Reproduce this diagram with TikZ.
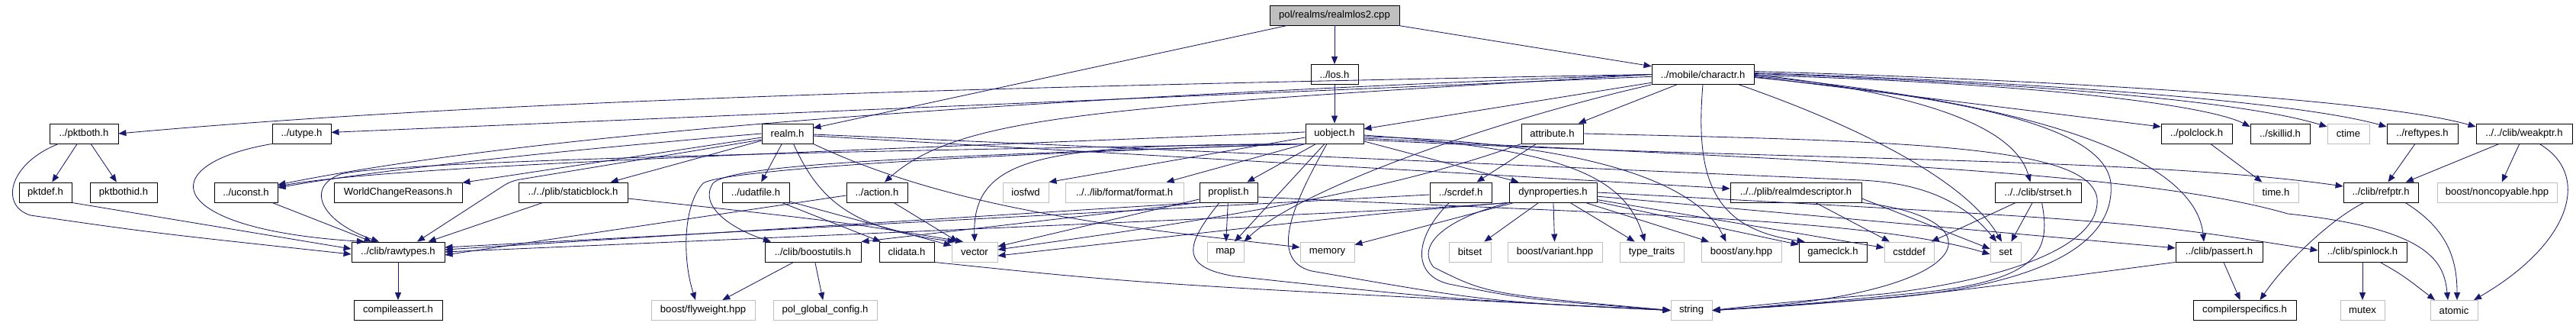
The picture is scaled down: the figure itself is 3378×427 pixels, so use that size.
\documentclass[tikz,border=0pt]{standalone}
\usepackage{fontspec}
\setmainfont{Liberation Sans}
\usetikzlibrary{arrows.meta}
\definecolor{edgec}{RGB}{25,25,112}
\definecolor{grayb}{RGB}{191,191,191}
\begin{document}
\begin{tikzpicture}[x=1pt,y=-1pt,
  nb/.style={draw=black, line width=0.9pt, minimum height=26, inner sep=0pt, font=\fontsize{13.1}{15}\selectfont, text=black, fill=white},
  ng/.style={nb, draw=grayb},
  e/.style={draw=edgec, line width=0.85pt, -{Triangle[length=10pt,width=8pt]}}]
\fill[white] (0,0) rectangle (3378,427);
\useasboundingbox (0,0) rectangle (3378,427);
% row 0
\node[nb, fill=grayb, minimum width=170] (rlos) at (1750,20) {pol/realms/realmlos2.cpp};
% row 1
\node[nb, minimum width=62] (los) at (1750,97.5) {../los.h};
\node[nb, minimum width=134] (charactr) at (2233,97.5) {../mobile/charactr.h};
% row 2
\node[nb, minimum width=90] (pktboth) at (110,175) {../pktboth.h};
\node[nb, minimum width=77] (utype) at (395.5,175) {../utype.h};
\node[nb, minimum width=67] (realm) at (1032.5,175) {realm.h};
\node[nb, minimum width=76] (uobject) at (1750,175) {uobject.h};
\node[nb, minimum width=81] (attribute) at (2035.5,175) {attribute.h};
\node[nb, minimum width=93] (polclock) at (2880.5,175) {../polclock.h};
\node[nb, minimum width=78] (skillid) at (2990,175) {../skillid.h};
\node[ng, minimum width=55] (ctime) at (3079.5,175) {ctime};
\node[nb, minimum width=93] (reftypes) at (3176.5,175) {../reftypes.h};
\node[nb, minimum width=126] (weakptr) at (3310,175) {../../clib/weakptr.h};
% row 3
\node[nb, minimum width=69] (pktdef) at (59.5,252) {pktdef.h};
\node[nb, minimum width=88] (pktbothid) at (162,252) {pktbothid.h};
\node[nb, minimum width=83] (uconst) at (322.5,252) {../uconst.h};
\node[nb, minimum width=168] (wcr) at (522,252) {WorldChangeReasons.h};
\node[nb, minimum width=143] (staticblock) at (751.5,252) {../../plib/staticblock.h};
\node[nb, minimum width=88] (udatfile) at (991,252) {../udatfile.h};
\node[nb, minimum width=80] (action) at (1150,252) {../action.h};
\node[ng, minimum width=60] (iosfwd) at (1345,252) {iosfwd};
\node[ng, minimum width=155] (format) at (1474.5,252) {../../lib/format/format.h};
\node[nb, minimum width=76] (proplist) at (1611,252) {proplist.h};
\node[nb, minimum width=81] (scrdef) at (1915.5,252) {../scrdef.h};
\node[nb, minimum width=115] (dynprop) at (2036.5,252) {dynproperties.h};
\node[nb, minimum width=172] (realmdesc) at (2355,252) {../../plib/realmdescriptor.h};
\node[nb, minimum width=113] (strset) at (2672.5,252) {../../clib/strset.h};
\node[ng, minimum width=59] (timeh) at (2984.5,252) {time.h};
\node[nb, minimum width=98] (refptr) at (3122,252) {../clib/refptr.h};
\node[ng, minimum width=157] (noncopy) at (3274.5,252) {boost/noncopyable.hpp};
% row 4
\node[nb, minimum width=122] (rawtypes) at (522,330) {../clib/rawtypes.h};
\node[nb, minimum width=126] (boostutils) at (1066,330) {../clib/boostutils.h};
\node[nb, minimum width=72] (clidata) at (1189,330) {clidata.h};
\node[ng, minimum width=60] (vector) at (1278,330) {vector};
\node[ng, minimum width=48] (mapn) at (1607,330) {map};
\node[ng, minimum width=71] (memory) at (1740.5,330) {memory};
\node[ng, minimum width=55] (bitset) at (1927.5,330) {bitset};
\node[ng, minimum width=124] (variant) at (2039,330) {boost/variant.hpp};
\node[ng, minimum width=84] (ttraits) at (2166,330) {type\_traits};
\node[ng, minimum width=105] (anyh) at (2283.5,330) {boost/any.hpp};
\node[nb, minimum width=89] (gameclck) at (2403.5,330) {gameclck.h};
\node[ng, minimum width=65] (cstddef) at (2503.5,330) {cstddef};
\node[ng, minimum width=40] (setn) at (2630,330) {set};
\node[nb, minimum width=114] (passert) at (2910,330) {../clib/passert.h};
\node[nb, minimum width=116] (spinlock) at (3098,330) {../clib/spinlock.h};
% row 5
\node[nb, minimum width=116] (cassert) at (522,406.5) {compileassert.h};
\node[ng, minimum width=136] (flyweight) at (922,406.5) {boost/flyweight.hpp};
\node[ng, minimum width=136] (polglobal) at (1082,406.5) {pol\_global\_config.h};
\node[ng, minimum width=54] (stringn) at (2218,406.5) {string};
\node[nb, minimum width=135] (cspec) at (2943.5,406.5) {compilerspecifics.h};
\node[ng, minimum width=58] (mutex) at (3098,406.5) {mutex};
\node[ng, minimum width=62] (atomic) at (3218,406.5) {atomic};
% root edges
\draw[e] (rlos) -- (los);
\draw[e] (rlos) -- (charactr);
\draw[e] (rlos) -- (realm);
\draw[e] (los) -- (uobject);
% charactr
\draw[e] (charactr.west) .. controls (1200,115) and (600,135) .. (pktboth.east);
\draw[e] (charactr) -- (utype);
\draw[e] (charactr.west) .. controls (1300,130) and (700,175) .. ([yshift=10]uconst.east);
\draw[e] (charactr) -- (uobject);
\draw[e] (charactr) -- (attribute);
\draw[e] (charactr.west) .. controls (1450,140) and (1260,150) .. ([xshift=10]action.north);
\draw[e] (charactr.south west) .. controls (1950,160) and (1700,250) .. (mapn.north east);
\draw[e] (charactr.south) .. controls (2222,240) and (2250,300) .. ([xshift=8]gameclck.north west);
\draw[e] ([xshift=-20]charactr.south east) .. controls (2450,170) and (2580,240) .. ([xshift=-5]setn.north);
\draw[e] ([yshift=-3]charactr.east) -- ([yshift=9]polclock.west);
\draw[e] ([yshift=-1]charactr.east) .. controls (2700,110) and (2900,140) .. ([yshift=9]skillid.west);
\draw[e] ([yshift=1]charactr.east) .. controls (2700,110) and (2950,135) .. ([yshift=9]ctime.west);
\draw[e] ([yshift=2]charactr.east) .. controls (2700,108) and (3020,135) .. ([yshift=9]reftypes.west);
\draw[e] ([yshift=4]charactr.east) .. controls (2700,105) and (3120,130) .. ([yshift=9]weakptr.west);
\draw[e] (charactr.east) .. controls (2500,120) and (2640,160) .. ([xshift=-10]strset.north);
\draw[e] ([yshift=-2]charactr.east) .. controls (2720,140) and (2880,220) .. ([xshift=-20]passert.north);
\draw[e] ([yshift=-4]charactr.east) .. controls (2600,130) and (2760,170) .. (2768,240) .. controls (2775,330) and (2650,375) .. (2480,390) .. controls (2330,402) .. (stringn.east);
% attribute
\draw[e] (attribute) -- (scrdef);
\draw[e] (attribute.east) .. controls (2500,185) and (2740,190) .. (2750,260) .. controls (2755,320) and (2640,365) .. (2470,385) .. controls (2320,398) .. (stringn.east);
\draw[e] (attribute.south west) .. controls (1800,260) and (1500,300) .. ([yshift=3]vector.east);
% uobject
\draw[e] ([yshift=2]uobject.west) .. controls (900,205) and (500,220) .. ([yshift=8]uconst.east);
\draw[e] (uobject.south west) .. controls (900,200) and (500,215) .. (447,228) .. controls (400,245) and (420,290) .. ([xshift=-25]rawtypes.north);
\draw[e] (uobject.south west) .. controls (1200,205) and (960,215) .. (935,240) .. controls (915,270) and (960,300) .. ([xshift=-55]boostutils.north);
\draw[e] (uobject.south west) .. controls (1200,205) and (945,225) .. (922,240) .. controls (895,270) and (895,340) .. ([xshift=-10]flyweight.north);
\draw[e] (uobject) -- (proplist);
\draw[e] ([xshift=-13]uobject.south) -- ([xshift=12]mapn.north);
\draw[e] ([xshift=-10]uobject.south) .. controls (1700,260) and (1660,340) .. (1720,355) .. controls (1950,395) .. (stringn.west);
\draw[e] (uobject.south west) -- ([xshift=55]format.north);
\draw[e] ([yshift=-5]uobject.west) -- (iosfwd.north east);
\draw[e] (uobject.south west) .. controls (1380,190) and (1275,200) .. (vector.north);
\draw[e] ([yshift=-10]uobject.east) -- ([xshift=-45]dynprop.north);
\draw[e] ([yshift=-2]uobject.east) .. controls (2050,195) and (2130,230) .. ([xshift=-9]ttraits.north);
\draw[e] ([yshift=-4]uobject.east) .. controls (2050,185) and (2220,230) .. ([xshift=-20]anyh.north);
\draw[e] ([yshift=-8]uobject.east) .. controls (2300,210) and (2800,205) .. ([yshift=8]refptr.west);
\draw[e] ([yshift=-6]uobject.east) .. controls (2350,210) and (2800,222) .. (3000,280) .. controls (3190,300) and (3205,345) .. ([xshift=-8]atomic.north);
% realm
\draw[e] (realm.west) .. controls (700,200) and (480,225) .. ([yshift=6]uconst.east);
\draw[e] (realm) -- (wcr);
\draw[e] (realm) -- (staticblock);
\draw[e] (realm) -- (udatfile);
\draw[e, rounded corners=10pt] ([yshift=-8]realm.west) -- (670,237) -- ([xshift=25]rawtypes.north);
\draw[e] ([xshift=8]realm.south) .. controls (1075,265) and (1120,300) .. ([xshift=5]vector.north west);
\draw[e] (realm.south east) .. controls (1260,280) and (1500,300) .. ([yshift=6]memory.west);
\draw[e] ([yshift=-3]realm.east) -- ([yshift=5]realmdesc.west);
\draw[e] ([yshift=-1]realm.east) -- (2440,236) .. controls (2530,240) and (2580,270) .. ([xshift=-12]setn.north);
% left part
\draw[e] (pktboth) -- (pktdef);
\draw[e] (pktboth) -- (pktbothid);
\draw[e] ([xshift=12]pktboth.south west) .. controls (10,215) and (0,270) .. (40,282) .. controls (200,305) .. ([yshift=-3]rawtypes.west);
\draw[e] (pktdef.south east) -- ([yshift=4]rawtypes.west);
\draw[e] (utype.south west) .. controls (200,215) and (210,300) .. ([xshift=-44]rawtypes.north);
\draw[e] (uconst) -- (rawtypes);
\draw[e] (staticblock) -- (rawtypes);
\draw[e] ([yshift=-8]staticblock.east) .. controls (1100,290) .. ([xshift=-15]vector.north);
\draw[e] (udatfile) -- (clidata);
\draw[e] (udatfile) -- (vector);
\draw[e] ([yshift=-4]action.west) -- ([yshift=-4]rawtypes.east);
\draw[e] (action) -- (vector);
\draw[e] (boostutils) -- (flyweight);
\draw[e] (boostutils) -- (polglobal);
\draw[e] (clidata.south east) .. controls (1500,372) .. (stringn.west);
\draw[e] (rawtypes) -- (cassert);
% proplist
\draw[e] (proplist) -- (mapn);
\draw[e] ([xshift=-12]proplist.south) .. controls (1555,320) and (1545,350) .. (1620,362) .. controls (1900,392) .. (stringn.west);
\draw[e] (proplist) -- (vector);
\draw[e] (proplist.south west) -- ([yshift=3]rawtypes.east);
\draw[e] (proplist.south west) -- (boostutils.north east);
\draw[e] ([yshift=-6]proplist.east) .. controls (2100,280) and (2450,285) .. ([yshift=-3]setn.west);
% scrdef
\draw[e] ([yshift=-3]scrdef.west) -- ([yshift=6]rawtypes.east);
\draw[e] ([xshift=-15]scrdef.south) .. controls (1855,310) and (1850,360) .. (1900,372) .. controls (2000,392) .. (stringn.west);
% dynproperties
\draw[e] (dynprop) -- (bitset);
\draw[e] (dynprop) -- (variant);
\draw[e] (dynprop) -- (ttraits);
\draw[e] (dynprop) -- (anyh);
\draw[e] (dynprop) -- (memory);
\draw[e] (dynprop.south west) .. controls (1900,285) and (1855,320) .. (1880,350) .. controls (1950,385) .. (stringn.west);
\draw[e] (dynprop) -- (gameclck);
\draw[e] (dynprop) -- (passert);
\draw[e] (dynprop) -- (cstddef);
\draw[e] (dynprop.east) .. controls (2800,290) .. ([yshift=2]spinlock.west);
\draw[e] (dynprop.south west) .. controls (1850,275) .. (rawtypes.east);
\draw[e] (dynprop.south west) .. controls (1800,280) .. ([yshift=-5]vector.east);
% realmdescriptor
\draw[e] (realmdesc) -- (cstddef);
\draw[e] ([yshift=-8]realmdesc.east) -- ([yshift=4]setn.west);
\draw[e] (realmdesc.south east) .. controls (2620,285) and (2610,385) .. (stringn.east);
% strset
\draw[e] (strset) -- (setn);
\draw[e] (strset) -- (cstddef);
\draw[e] ([xshift=5]strset.south) .. controls (2690,330) and (2675,370) .. (2500,385) .. controls (2350,400) .. (stringn.east);
% passert
\draw[e] (passert) -- (cspec);
\draw[e] (passert.south west) .. controls (2500,390) .. (stringn.east);
% clib right
\draw[e] (polclock) -- (timeh);
\draw[e] (reftypes) -- (refptr);
\draw[e] (weakptr) -- (refptr);
\draw[e] (weakptr) -- (noncopy);
\draw[e] ([xshift=20]weakptr.south) .. controls (3400,230) and (3370,320) .. ([xshift=26]atomic.north);
\draw[e] ([xshift=-22]refptr.south) .. controls (3060,285) and (3000,340) .. ([xshift=20]cspec.north);
\draw[e] ([xshift=32]refptr.south) .. controls (3210,300) and (3222,340) .. ([xshift=4]atomic.north);
\draw[e] (spinlock) -- (mutex);
\draw[e] ([xshift=23]spinlock.south) .. controls (3150,360) .. ([xshift=-25]atomic.north);
\end{tikzpicture}
\end{document}
